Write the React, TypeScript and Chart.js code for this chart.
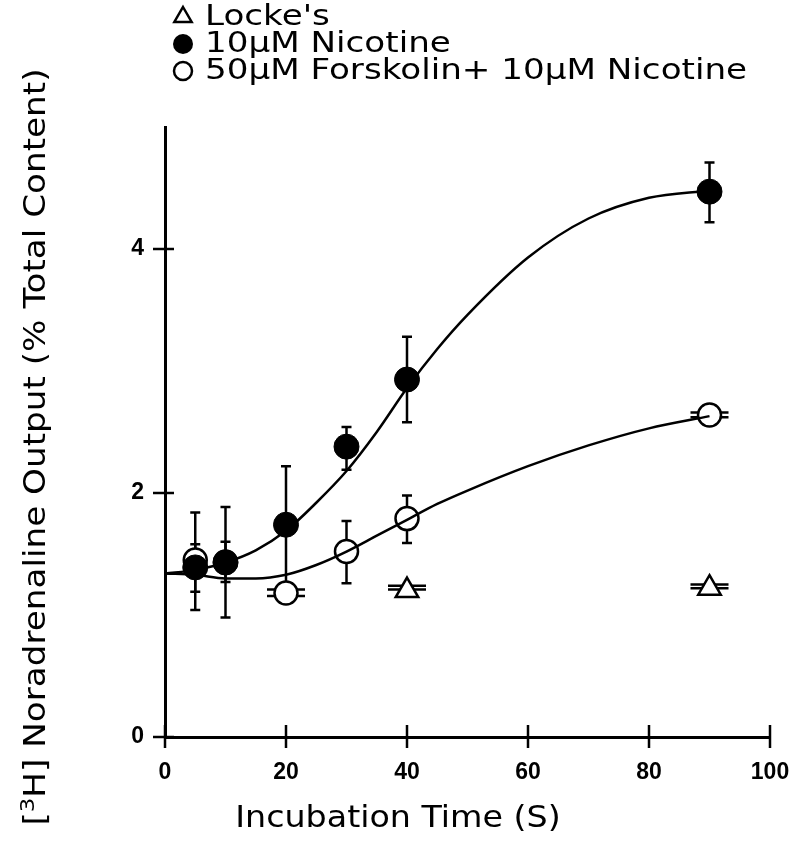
import React, { useEffect, useRef } from "react";
import { Chart, registerables } from "chart.js";
Chart.register(...registerables);

// ---- data ----
const xTicks = [0, 20, 40, 60, 80, 100];
const yTicks = [0, 2, 4];

const lockeLabel = "Locke's";
const nicLabel = "10µM Nicotine";
const fskLabel = "50µM Forskolin+ 10µM Nicotine";

const nicTime = [5, 10, 20, 30, 40, 90];
const nicMean = [1.39, 1.43, 1.74, 2.38, 2.93, 4.47];
const nicLow = [1.04, 0.98, 1.26, 2.19, 2.58, 4.22];
const nicHigh = [1.84, 1.885, 2.22, 2.54, 3.28, 4.71];

const fskTime = [5, 10, 20, 30, 40, 90];
const fskMean = [1.45, 1.435, 1.18, 1.52, 1.79, 2.64];
const fskLow = [1.19, 1.27, 1.155, 1.26, 1.59, 2.62];
const fskHigh = [1.58, 1.6, 1.21, 1.77, 1.98, 2.66];

const lockeTime = [40, 90];
const lockeMean = [1.2, 1.22];
const lockeLow = [1.21, 1.22];
const lockeHigh = [1.24, 1.25];

const fitTime = [0, 5, 10, 15, 20, 25, 30, 35, 40, 45, 50, 60, 70, 80, 90];
const nicFit = [1.34, 1.37, 1.43, 1.53, 1.69, 1.92, 2.18, 2.5, 2.86, 3.18, 3.46, 3.93, 4.25, 4.42, 4.48];
const fskFit = [1.34, 1.33, 1.3, 1.3, 1.33, 1.41, 1.52, 1.65, 1.78, 1.91, 2.02, 2.22, 2.39, 2.53, 2.63];

const xTitle = "Incubation Time (S)";
const yTitleA = "[";
const yTitleSup = "3";
const yTitleB = "H] Noradrenaline Output (% Total Content)";

const pts = (xs: number[], ys: number[]) => xs.map((x, i) => ({ x, y: ys[i] }));

export default function App() {
  const ref = useRef<HTMLCanvasElement>(null);
  useEffect(() => {
    document.body.style.margin = "0";
    const canvas = ref.current!;

    const errorBars = {
      id: "errorBars",
      beforeDatasetsDraw(chart: any) {
        const { ctx, scales } = chart;
        const xs = scales.x, ys = scales.y;
        ctx.save();
        ctx.strokeStyle = "#000";
        ctx.lineWidth = 2.5;
        chart.data.datasets.forEach((ds: any) => {
          if (!ds.errLow) return;
          ds.data.forEach((p: any, i: number) => {
            const x = xs.getPixelForValue(p.x);
            const yl = ys.getPixelForValue(ds.errLow[i]);
            const yh = ys.getPixelForValue(ds.errHigh[i]);
            const r = ds.pointRadius || 10;
            const cw = Math.abs(yl - yh) / 2 < r ? 19 : 5;
            ctx.beginPath();
            ctx.moveTo(x, yl);
            ctx.lineTo(x, yh);
            ctx.moveTo(x - cw, yl);
            ctx.lineTo(x + cw, yl);
            ctx.moveTo(x - cw, yh);
            ctx.lineTo(x + cw, yh);
            ctx.stroke();
          });
        });
        ctx.restore();
      },
    };

    const decor = {
      id: "decor",
      afterDraw(chart: any) {
        const { ctx, scales, chartArea } = chart;
        const xs = scales.x, ys = scales.y;
        ctx.save();
        ctx.strokeStyle = "#000";
        ctx.fillStyle = "#000";
        ctx.lineWidth = 2.5;
        // crossing tick marks
        xs.ticks.forEach((t: any) => {
          const x = xs.getPixelForValue(t.value);
          ctx.beginPath();
          ctx.moveTo(x, chartArea.bottom - 12);
          ctx.lineTo(x, chartArea.bottom + 11);
          ctx.stroke();
        });
        ys.ticks.forEach((t: any) => {
          const y = ys.getPixelForValue(t.value);
          ctx.beginPath();
          ctx.moveTo(chartArea.left - 12, y);
          ctx.lineTo(chartArea.left + 9, y);
          ctx.stroke();
        });

        // x title
        ctx.textBaseline = "middle";
        ctx.font = '30px "DejaVu Sans"';
        ctx.save();
        ctx.translate(398, 819);
        ctx.scale(1.11, 1);
        ctx.textAlign = "center";
        ctx.fillText(xTitle, 0, 0);
        ctx.restore();

        // y title with superscript
        ctx.save();
        ctx.translate(37, 447);
        ctx.rotate(-Math.PI / 2);
        ctx.scale(1.14, 1);
        ctx.textAlign = "left";
        const big = '30px "DejaVu Sans"';
        const small = '20px "DejaVu Sans"';
        ctx.font = big;
        const wA = ctx.measureText(yTitleA).width;
        const wB = ctx.measureText(yTitleB).width;
        ctx.font = small;
        const wS = ctx.measureText(yTitleSup).width;
        let x0 = -(wA + wS + wB) / 2;
        ctx.font = big;
        ctx.fillText(yTitleA, x0, 0);
        x0 += wA;
        ctx.font = small;
        ctx.fillText(yTitleSup, x0, -8);
        x0 += wS;
        ctx.font = big;
        ctx.fillText(yTitleB, x0, 0);
        ctx.restore();

        // legend
        const rows = [
          { label: lockeLabel, shape: "tri", y: 17 },
          { label: nicLabel, shape: "filled", y: 44 },
          { label: fskLabel, shape: "open", y: 71 },
        ];
        rows.forEach((r) => {
          const mx = 183;
          ctx.lineWidth = 2.5;
          if (r.shape === "tri") {
            const rad = 10;
            ctx.beginPath();
            ctx.moveTo(mx, r.y - rad);
            ctx.lineTo(mx + rad * 0.866, r.y + rad * 0.5);
            ctx.lineTo(mx - rad * 0.866, r.y + rad * 0.5);
            ctx.closePath();
            ctx.stroke();
          } else {
            ctx.beginPath();
            ctx.arc(mx, r.y, r.shape === "filled" ? 10 : 9, 0, Math.PI * 2);
            if (r.shape === "filled") ctx.fill();
            else ctx.stroke();
          }
          ctx.save();
          ctx.font = '28px "DejaVu Sans"';
          ctx.textAlign = "left";
          ctx.textBaseline = "middle";
          ctx.translate(205, r.y + 1);
          ctx.scale(1.22, 1);
          ctx.fillText(r.label, 0, 0);
          ctx.restore();
        });
        ctx.restore();
      },
    };

    const tickFont = { family: "Liberation Sans", weight: "bold", size: 23 };

    const chart = new Chart(canvas, {
      type: "scatter",
      data: {
        datasets: [
          {
            label: "nicFit",
            data: pts(fitTime, nicFit),
            showLine: true,
            borderColor: "#000",
            borderWidth: 2.5,
            pointRadius: 0,
            cubicInterpolationMode: "monotone",
          } as any,
          {
            label: "fskFit",
            data: pts(fitTime, fskFit),
            showLine: true,
            borderColor: "#000",
            borderWidth: 2.5,
            pointRadius: 0,
            cubicInterpolationMode: "monotone",
          } as any,
          {
            label: nicLabel,
            data: pts(nicTime, nicMean),
            pointStyle: "circle",
            pointRadius: 12.5,
            backgroundColor: "#000",
            borderColor: "#000",
            borderWidth: 1,
            errLow: nicLow,
            errHigh: nicHigh,
          } as any,
          {
            label: fskLabel,
            data: pts(fskTime, fskMean),
            pointStyle: "circle",
            pointRadius: 11.5,
            backgroundColor: "#fff",
            borderColor: "#000",
            borderWidth: 2.5,
            errLow: fskLow,
            errHigh: fskHigh,
          } as any,
          {
            label: lockeLabel,
            data: pts(lockeTime, lockeMean),
            pointStyle: "triangle",
            pointRadius: 13,
            backgroundColor: "#fff",
            borderColor: "#000",
            borderWidth: 2.5,
            errLow: lockeLow,
            errHigh: lockeHigh,
          } as any,
        ],
      },
      options: {
        responsive: false,
        devicePixelRatio: 1,
        animation: false,
        layout: { autoPadding: false, padding: { left: 0, right: 25, top: 127, bottom: 0 } },
        plugins: { legend: { display: false }, tooltip: { enabled: false } },
        scales: {
          x: {
            type: "linear",
            min: 0,
            max: 100,
            afterBuildTicks: (s: any) => {
              s.ticks = xTicks.map((v) => ({ value: v }));
            },
            afterFit: (s: any) => {
              s.height = 107;
              s.paddingLeft = 0;
              s.paddingRight = 0;
            },
            grid: { display: false, drawTicks: false },
            border: { display: true, color: "#000", width: 3 },
            ticks: {
              padding: 22,
              color: "#000",
              font: tickFont,
              maxRotation: 0,
            },
          },
          y: {
            type: "linear",
            min: 0,
            max: 5,
            afterBuildTicks: (s: any) => {
              s.ticks = yTicks.map((v) => ({ value: v }));
            },
            afterFit: (s: any) => {
              s.width = 165;
              s.paddingTop = 0;
              s.paddingBottom = 0;
            },
            grid: { display: false, drawTicks: false },
            border: { display: true, color: "#000", width: 3 },
            ticks: {
              padding: 21,
              color: "#000",
              font: tickFont,
            },
          },
        },
      } as any,
      plugins: [errorBars, decor],
    });
    return () => chart.destroy();
  }, []);

  return (
    <div style={{ width: 795, height: 844, background: "#fff" }}>
      <canvas ref={ref} width={795} height={844} style={{ display: "block" }} />
    </div>
  );
}
